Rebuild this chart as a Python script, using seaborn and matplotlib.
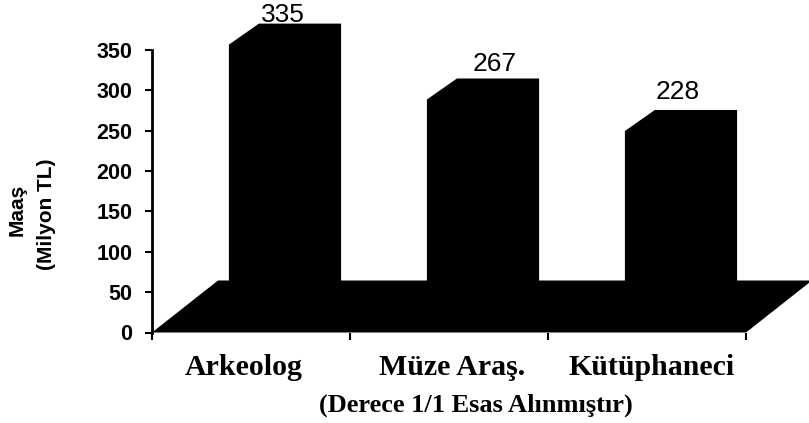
import matplotlib
matplotlib.use("Agg")
import matplotlib.pyplot as plt
import pandas as pd
import seaborn as sns
from matplotlib.patches import Polygon
from matplotlib.transforms import Affine2D, IdentityTransform

categories = ["Arkeolog", "Müze Araş.", "Kütüphaneci"]
salaries = [335, 267, 228]
y_ticks = [0, 50, 100, 150, 200, 250, 300, 350]

sns.set_style("ticks")
plt.rcParams["font.family"] = ["Liberation Sans", "DejaVu Sans"]

W, H = 809, 423
fig = plt.figure(figsize=(W / 100, H / 100), dpi=100)
ax = fig.add_axes([152 / W, 1 - 332.5 / H, 594 / W, 282.5 / H])

df = pd.DataFrame({"meslek": categories, "maas": salaries})
sns.barplot(data=df, x="meslek", y="maas", color="black", saturation=1, width=0.415, ax=ax)
ax.set_xlim(-0.5, 2.5)
ax.set_ylim(0, 350)

# fake 3D: depth of the box in pixels, front face pushed off the category centre
depth_x, depth_y = 30, 21
front = Affine2D().translate(19, 17.5)
for patch in ax.patches:
    patch.set_transform(ax.transData + front)
    patch.set_clip_on(False)

for patch, value in zip(list(ax.patches), salaries):
    x0, y0 = (ax.transData + front).transform((patch.get_x(), 0))
    x1, y1 = (ax.transData + front).transform((patch.get_x() + patch.get_width(), value))
    pts = [(x0, y1), (x0 + depth_x, y1 + depth_y), (x1 + depth_x, y1 + depth_y),
           (x1 + depth_x, y0 + depth_y), (x1, y0), (x0, y0)]
    ax.add_patch(Polygon(pts, closed=True, color="black", lw=0, clip_on=False,
                         transform=IdentityTransform()))

# floor
fx0, fy0 = ax.transData.transform((-0.5, 0))
fx1, _ = ax.transData.transform((2.5, 0))
floor = [(fx0, fy0), (fx0 + 66, fy0 + 52), (fx1 + 66, fy0 + 52), (fx1, fy0)]
ax.add_patch(Polygon(floor, closed=True, color="black", lw=0, clip_on=False,
                     transform=IdentityTransform()))

# value labels, nudged by hand to where the original has them
for i, (value, off_x, off_y) in enumerate(zip(salaries, [13, 27, 12], [17.5, 23.5, 26.5])):
    ax.annotate(str(value), (i, value), xycoords=ax.transData + front,
                xytext=(off_x, off_y), textcoords="offset pixels",
                ha="center", va="bottom", fontsize=19, color="black", annotation_clip=False)

ax.set_xlabel("")
ax.set_ylabel("")
ax.set_xticks([-0.5, 0.5, 1.5, 2.5])
ax.set_xticklabels([])
ax.set_yticks(y_ticks)
ax.set_yticklabels([str(t) for t in y_ticks], fontsize=15.5, fontweight="bold")
ax.tick_params(axis="both", length=5, width=1.5, color="black", pad=3)
ax.tick_params(axis="y", labelcolor="black", pad=9)
sns.despine(ax=ax, top=True, right=True, bottom=True)
ax.spines["left"].set_linewidth(2)
ax.spines["left"].set_color("black")

# category names
serif = ["Liberation Serif", "DejaVu Serif"]
for name, cx in zip(categories, [244, 452, 652]):
    fig.text(cx / W, 1 - 367 / H, name, ha="center", va="center", family=serif,
             fontweight="bold", fontsize=21.5, color="black")
fig.text(476 / W, 1 - 405 / H, "(Derece 1/1 Esas Alınmıştır)", ha="center", va="center",
         family=serif, fontweight="bold", fontsize=19, color="black")

fig.text(17 / W, 1 - 210 / H, "Maaş", rotation=90, ha="center", va="center",
         fontsize=15, fontweight="bold", color="black")
fig.text(47 / W, 1 - 214 / H, "(Milyon TL)", rotation=90, ha="center", va="center",
         fontsize=15, fontweight="bold", color="black")

fig.savefig("out.png", dpi=100)
